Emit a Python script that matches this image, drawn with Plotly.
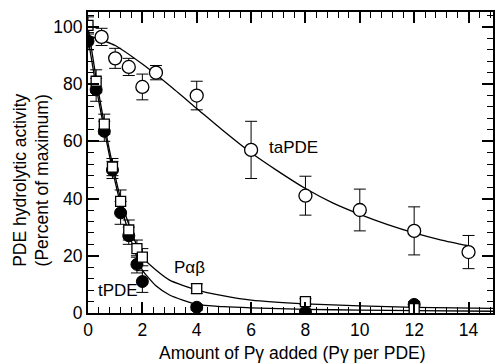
import plotly.graph_objects as go

# ---- data ----
ta_x = [0.5, 1.0, 1.5, 2.0, 2.5, 4, 6, 8, 10, 12, 14]
ta_y = [96.5, 89, 86, 79, 84, 76, 57, 41, 36, 28.7, 21.3]
ta_err = [3, 3.5, 3, 4.5, 2.5, 5, 10, 6.8, 7.3, 8.4, 5.8]

t_x = [0, 0.3, 0.6, 0.9, 1.2, 1.5, 1.8, 2.0, 4, 8, 12]
t_y = [95, 78, 63.5, 50, 35, 27, 17, 11, 2, 0.3, 3]
t_err = [3, 4, 3.5, 3, 4, 3, 3, 3.8, 1, 0.5, 1]

p_x = [0, 0.3, 0.6, 0.9, 1.2, 1.5, 1.8, 2.0, 4, 8, 12]
p_y = [100.5, 81, 66, 51, 39, 29, 22.5, 19.5, 8.5, 4, 1.5]
p_err = [3, 4, 3.5, 3, 4, 3.5, 3, 3, 1.7, 1, 0.5]

# fitted curves
ta_fit_x = [0, 1, 2, 3, 4, 5, 6, 7, 8, 9, 10, 11, 12, 13, 14]
ta_fit_y = [97, 93.5, 87, 79.5, 71.5, 63.5, 56, 49.5, 43.5, 38.5, 34.5, 31, 28, 25.5, 23.5]

p_fit_x = [0, 0.3, 0.6, 0.9, 1.2, 1.5, 1.8, 2.0, 2.5, 3, 4, 5, 6, 8, 10, 12, 15]
p_fit_y = [100, 82, 66, 52, 40, 31, 23.5, 19.5, 15, 11.5, 8, 6, 4.5, 3.2, 2.5, 2, 1.6]

t_fit_x = [0, 0.3, 0.6, 0.9, 1.2, 1.5, 1.8, 2.0, 2.5, 3, 4, 5, 6, 8, 10, 12, 15]
t_fit_y = [96, 79, 64, 50, 38, 28, 19.5, 15, 9.5, 6.3, 3, 2.2, 1.8, 1.3, 1, 0.8, 0.6]

x_ticks = [0, 2, 4, 6, 8, 10, 12, 14]
y_ticks = [0, 20, 40, 60, 80, 100]

FONT = "Arial, Liberation Sans, Helvetica, sans-serif"

fig = go.Figure()
for fx, fy in [(ta_fit_x, ta_fit_y), (p_fit_x, p_fit_y), (t_fit_x, t_fit_y)]:
    fig.add_trace(go.Scatter(x=fx, y=fy, mode="lines", line=dict(color="black", width=1.3, shape="spline", smoothing=0.6),
                             hoverinfo="skip", showlegend=False))

eb = dict(type="data", thickness=1, width=6, color="black")
fig.add_trace(go.Scatter(x=t_x, y=t_y, mode="markers", error_y=dict(array=t_err, **eb),
                         marker=dict(symbol="circle", size=12, color="black", line=dict(color="black", width=1)),
                         showlegend=False))
fig.add_trace(go.Scatter(x=p_x, y=p_y, mode="markers", error_y=dict(array=p_err, **eb),
                         marker=dict(symbol="square", size=10, color="white", line=dict(color="black", width=1.3)),
                         showlegend=False))
fig.add_trace(go.Scatter(x=ta_x, y=ta_y, mode="markers", error_y=dict(array=ta_err, **eb),
                         marker=dict(symbol="circle", size=13, color="white", line=dict(color="black", width=1.3)),
                         showlegend=False))

fig.add_annotation(x=6.6, y=58, text="taPDE", showarrow=False, xanchor="left", yanchor="middle",
                   font=dict(size=17, color="black", family=FONT))
fig.add_annotation(x=3.1, y=16, text="P\u03b1\u03b2", showarrow=False, xanchor="left", yanchor="middle",
                   font=dict(size=17, color="black", family=FONT))
fig.add_annotation(x=0.3, y=8, text="tPDE", showarrow=False, xanchor="left", yanchor="middle",
                   font=dict(size=17, color="black", family=FONT))

fig.add_annotation(xref="paper", yref="paper", x=-0.14, y=0.44, textangle=-90,
                   text="PDE hydrolytic activity<br>(Percent of maximum)", showarrow=False,
                   xanchor="center", yanchor="middle", font=dict(size=17.5, color="black", family=FONT))
fig.add_annotation(xref="paper", yref="paper", x=0.506, y=-0.133,
                   text="Amount of P\u03b3 added (P\u03b3 per PDE)", showarrow=False,
                   xanchor="center", yanchor="middle", font=dict(size=17.5, color="black", family=FONT))

axis_common = dict(showgrid=False, zeroline=False, showline=True, linecolor="black", linewidth=2,
                   mirror="ticks", ticks="inside", ticklen=11, tickwidth=1.5, tickcolor="black",
                   tickfont=dict(size=17.5, color="black", family=FONT))
fig.update_xaxes(range=[0, 14.9], tickvals=x_ticks, ticktext=[str(v) for v in x_ticks],
                 minor=dict(dtick=0.4, tick0=0, ticks="inside", ticklen=6, tickwidth=1, tickcolor="black"),
                 **axis_common)
fig.update_yaxes(range=[0, 105.2], tickvals=y_ticks, ticktext=[str(v) for v in y_ticks],
                 minor=dict(dtick=4, tick0=0, ticks="inside", ticklen=6, tickwidth=1, tickcolor="black"),
                 **axis_common)

fig.update_layout(width=495, height=364, margin=dict(l=88, r=0, t=12, b=51),
                  plot_bgcolor="white", paper_bgcolor="white", font=dict(family=FONT, color="black"))
fig.write_html("out.html")
